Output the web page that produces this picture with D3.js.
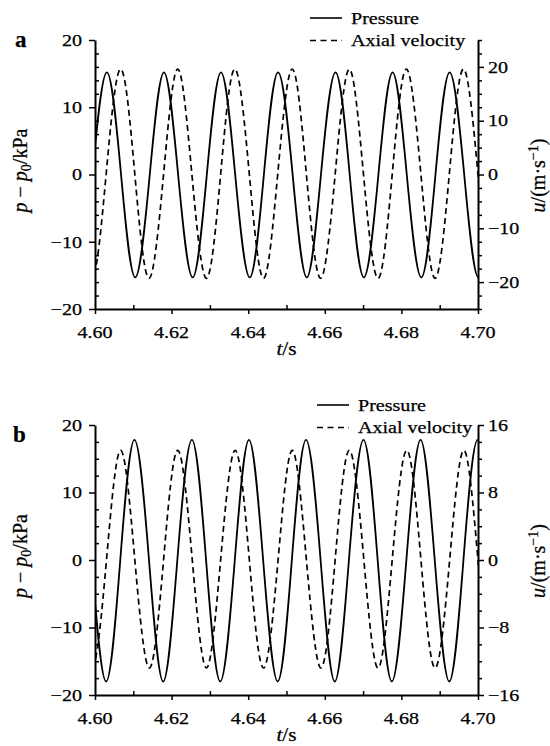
<!DOCTYPE html>
<html><head><meta charset="utf-8">
<script src="https://cdn.jsdelivr.net/npm/d3@7"></script>
<style>body{margin:0;background:#fff} text{stroke:#000;stroke-width:0.25px}</style>
</head><body>
<svg id="c" width="550" height="746"></svg>
<script>
// ---------- data ----------
const xTicks = [4.60, 4.62, 4.64, 4.66, 4.68, 4.70];
const xMinorTicks = [4.61, 4.63, 4.65, 4.67, 4.69];
const pTicks = [-20, -10, 0, 10, 20];
const uTicksA = [-20, -10, 0, 10, 20];
const uTicksB = [-16, -8, 0, 8, 16];
const seriesNames = ["Pressure", "Axial velocity"];

// [t (s), p - p0 (kPa)]
const pressureA = [[4.5919,0],[4.5956,-15.2],[4.5993,0],[4.6031,15.2],[4.6068,0],[4.6105,-15.3],[4.6143,0],[4.6180,15.2],[4.6217,0],[4.6255,-15.3],[4.6292,0],[4.6329,15.2],[4.6366,0],[4.6404,-15.3],[4.6441,0],[4.6478,15.2],[4.6516,0],[4.6553,-15.3],[4.6590,0],[4.6628,15.2],[4.6665,0],[4.6702,-15.3],[4.6740,0],[4.6777,15.2],[4.6814,0],[4.6852,-15.3],[4.6889,0],[4.6926,15.2],[4.6964,0],[4.7001,-15.3],[4.7038,0]];
// [t (s), u (m/s)]
const velocityA = [[4.5955,0],[4.5992,-19.3],[4.6029,0],[4.6067,19.6],[4.6104,0],[4.6141,-19.3],[4.6179,0],[4.6216,19.6],[4.6253,0],[4.6291,-19.3],[4.6328,0],[4.6365,19.6],[4.6403,0],[4.6440,-19.3],[4.6477,0],[4.6515,19.6],[4.6552,0],[4.6589,-19.3],[4.6627,0],[4.6664,19.6],[4.6701,0],[4.6739,-19.3],[4.6776,0],[4.6813,19.6],[4.6851,0],[4.6888,-19.3],[4.6925,0],[4.6962,19.6],[4.7000,0],[4.7037,-19.3],[4.7074,0]];
const pressureB = [[4.5917,0],[4.5954,17.8],[4.5991,0],[4.6029,-18.0],[4.6066,0],[4.6103,17.8],[4.6141,0],[4.6178,-18.0],[4.6215,0],[4.6253,17.8],[4.6290,0],[4.6327,-18.0],[4.6365,0],[4.6402,17.8],[4.6439,0],[4.6477,-18.0],[4.6514,0],[4.6551,17.8],[4.6589,0],[4.6626,-18.0],[4.6663,0],[4.6701,17.8],[4.6738,0],[4.6775,-18.0],[4.6813,0],[4.6850,17.8],[4.6887,0],[4.6925,-18.0],[4.6962,0],[4.6999,17.8],[4.7036,0]];
const velocityB = [[4.5955,0],[4.5992,-12.8],[4.6030,0],[4.6067,13.0],[4.6104,0],[4.6142,-12.8],[4.6179,0],[4.6216,13.0],[4.6254,0],[4.6291,-12.8],[4.6328,0],[4.6366,13.0],[4.6403,0],[4.6440,-12.8],[4.6478,0],[4.6515,13.0],[4.6552,0],[4.6590,-12.8],[4.6627,0],[4.6664,13.0],[4.6702,0],[4.6739,-12.8],[4.6776,0],[4.6814,13.0],[4.6851,0],[4.6888,-12.8],[4.6926,0],[4.6963,13.0],[4.7000,0],[4.7038,-12.8],[4.7075,0]];

// ---------- layout ----------
const FONT = "'Liberation Serif','Times New Roman',serif";
const STRETCH = 1.18;
const L = 95, R = 478;
const panels = [
  {label:"a", top:40, bottom:309, pressure:pressureA, velocity:velocityA,
   uDomain:[-25,25], uTicks:uTicksA, pMinor:2, uMinor:2.5, leg:{x:310, y:18}, labelPos:[15,47]},
  {label:"b", top:425, bottom:695, pressure:pressureB, velocity:velocityB,
   uDomain:[-16,16], uTicks:uTicksB, pMinor:2.5, uMinor:2, leg:{x:317, y:405}, labelPos:[13,442]}
];

const svg = d3.select("#c");
const x = d3.scaleLinear().domain([4.60, 4.70]).range([L, R]);
const fmtY = d => d < 0 ? "\u2212" + Math.abs(d) : String(d);

function stretch(sel){
  sel.each(function(){
    const l = this.getComputedTextLength();
    this.setAttribute("textLength", (l*STRETCH).toFixed(2));
    this.setAttribute("lengthAdjust", "spacingAndGlyphs");
  });
}
function styleAxis(g, w){
  g.selectAll("path").attr("stroke","#000").attr("stroke-width",w||2);
  g.selectAll("line").attr("stroke","#000").attr("stroke-width",1.5);
  g.selectAll("text").remove();
}
function minorValues(domain, step, major){
  const out = [];
  for (let v = domain[0]; v <= domain[1] + 1e-9; v += step) {
    const r = Math.round(v*1000)/1000;
    if (!major.some(m => Math.abs(m - r) < 1e-6)) out.push(r);
  }
  return out;
}

panels.forEach((P, i) => {
  const g = svg.append("g");
  const yP = d3.scaleLinear().domain([-20, 20]).range([P.bottom, P.top]);
  const yU = d3.scaleLinear().domain(P.uDomain).range([P.bottom, P.top]);

  // clip
  const cid = "clip" + i;
  svg.append("defs").append("clipPath").attr("id", cid)
    .append("rect").attr("x", L).attr("y", P.top - 10).attr("width", R - L).attr("height", P.bottom - P.top + 20);

  // curves
  const lineP = d3.line().x(d => x(d[0])).y(d => yP(d[1])).curve(d3.curveNatural);
  const lineU = d3.line().x(d => x(d[0])).y(d => yU(d[1])).curve(d3.curveNatural);
  const cg = g.append("g").attr("clip-path", `url(#${cid})`);
  cg.append("path").attr("d", lineU(P.velocity)).attr("fill","none")
    .attr("stroke","#000").attr("stroke-width",1.7).attr("stroke-dasharray","6,4");
  cg.append("path").attr("d", lineP(P.pressure)).attr("fill","none")
    .attr("stroke","#000").attr("stroke-width",1.8);

  // x axis
  const gx = g.append("g").attr("transform", `translate(0,${P.bottom})`)
    .call(d3.axisBottom(x).tickValues(xTicks).tickSize(5).tickSizeOuter(0).tickFormat(""));
  styleAxis(gx);
  const gxm = g.append("g").attr("transform", `translate(0,${P.bottom})`)
    .call(d3.axisBottom(x).tickValues(xMinorTicks).tickSize(-4).tickSizeOuter(0).tickFormat(""));
  styleAxis(gxm); gxm.select("path").remove();

  // left axis
  const gl = g.append("g").attr("transform", `translate(${L},0)`)
    .call(d3.axisLeft(yP).tickValues(pTicks).tickSize(6).tickSizeOuter(0).tickFormat(""));
  styleAxis(gl);
  const glm = g.append("g").attr("transform", `translate(${L},0)`)
    .call(d3.axisLeft(yP).tickValues(minorValues([-20,20], P.pMinor, pTicks)).tickSize(-4).tickSizeOuter(0).tickFormat(""));
  styleAxis(glm); glm.select("path").remove();

  // right axis
  const gr = g.append("g").attr("transform", `translate(${R},0)`)
    .call(d3.axisRight(yU).tickValues(P.uTicks).tickSize(6).tickSizeOuter(0).tickFormat(""));
  styleAxis(gr);
  const grm = g.append("g").attr("transform", `translate(${R},0)`)
    .call(d3.axisRight(yU).tickValues(minorValues(P.uDomain, P.uMinor, P.uTicks)).tickSize(4).tickSizeOuter(0).tickFormat(""));
  styleAxis(grm); grm.select("path").remove();

  // tick labels
  const tl = g.append("g").attr("font-family", FONT).attr("font-size", 17).attr("fill","#000");
  const lx = tl.selectAll(".xl").data(xTicks).enter().append("text")
    .attr("x", d => x(d)).attr("y", P.bottom + 29).attr("text-anchor","middle").text(d => d3.format(".2f")(d));
  const ly = tl.selectAll(".yl").data(pTicks).enter().append("text")
    .attr("x", 82).attr("y", d => yP(d)).attr("dy","0.34em").attr("text-anchor","end").text(fmtY);
  const ry = tl.selectAll(".ry").data(P.uTicks).enter().append("text")
    .attr("x", 488).attr("y", d => yU(d)).attr("dy","0.34em").attr("text-anchor","start").text(fmtY);
  stretch(lx); stretch(ly); stretch(ry);

  // axis titles
  const xt = g.append("text").attr("font-family", FONT).attr("font-size", 18)
    .attr("x", (L + R)/2).attr("y", P.bottom + 46).attr("text-anchor","middle");
  xt.append("tspan").attr("font-style","italic").text("t");
  xt.append("tspan").text("/s");
  stretch(xt);

  const mid = (P.top + P.bottom)/2;
  const yt = g.append("text").attr("font-family", FONT).attr("font-size", 20)
    .attr("text-anchor","middle").attr("transform", `translate(27,${mid - 4}) rotate(-90)`);
  yt.append("tspan").attr("font-style","italic").text("p");
  yt.append("tspan").text(" \u2212 ");
  yt.append("tspan").attr("font-style","italic").text("p");
  yt.append("tspan").attr("font-size", 14).attr("dy", 4).text("0");
  yt.append("tspan").attr("dy", -4).text("/kPa");

  const ut = g.append("text").attr("font-family", FONT).attr("font-size", 20)
    .attr("text-anchor","middle").attr("transform", `translate(545,${mid + 1}) rotate(-90)`);
  ut.append("tspan").attr("font-style","italic").text("u");
  ut.append("tspan").text("/(m\u00B7s");
  ut.append("tspan").attr("font-size", 14).attr("dy", -7).text("\u22121");
  ut.append("tspan").attr("dy", 7).text(")");

  // panel label
  g.append("text").attr("font-family", FONT).attr("font-size", 23).attr("font-weight","bold")
    .attr("x", P.labelPos[0]).attr("y", P.labelPos[1]).text(P.label);

  // legend
  const lg = g.append("g").attr("font-family", FONT).attr("font-size", 17);
  seriesNames.forEach((name, k) => {
    const yy = P.leg.y + k*22.5;
    lg.append("line").attr("x1", P.leg.x).attr("x2", P.leg.x + 32).attr("y1", yy).attr("y2", yy)
      .attr("stroke","#000").attr("stroke-width",1.6).attr("stroke-dasharray", k ? "6,4.5" : null);
    const t = lg.append("text").attr("x", P.leg.x + 41).attr("y", yy + 5.5).text(name);
    stretch(t);
  });
});
</script>
</body></html>
